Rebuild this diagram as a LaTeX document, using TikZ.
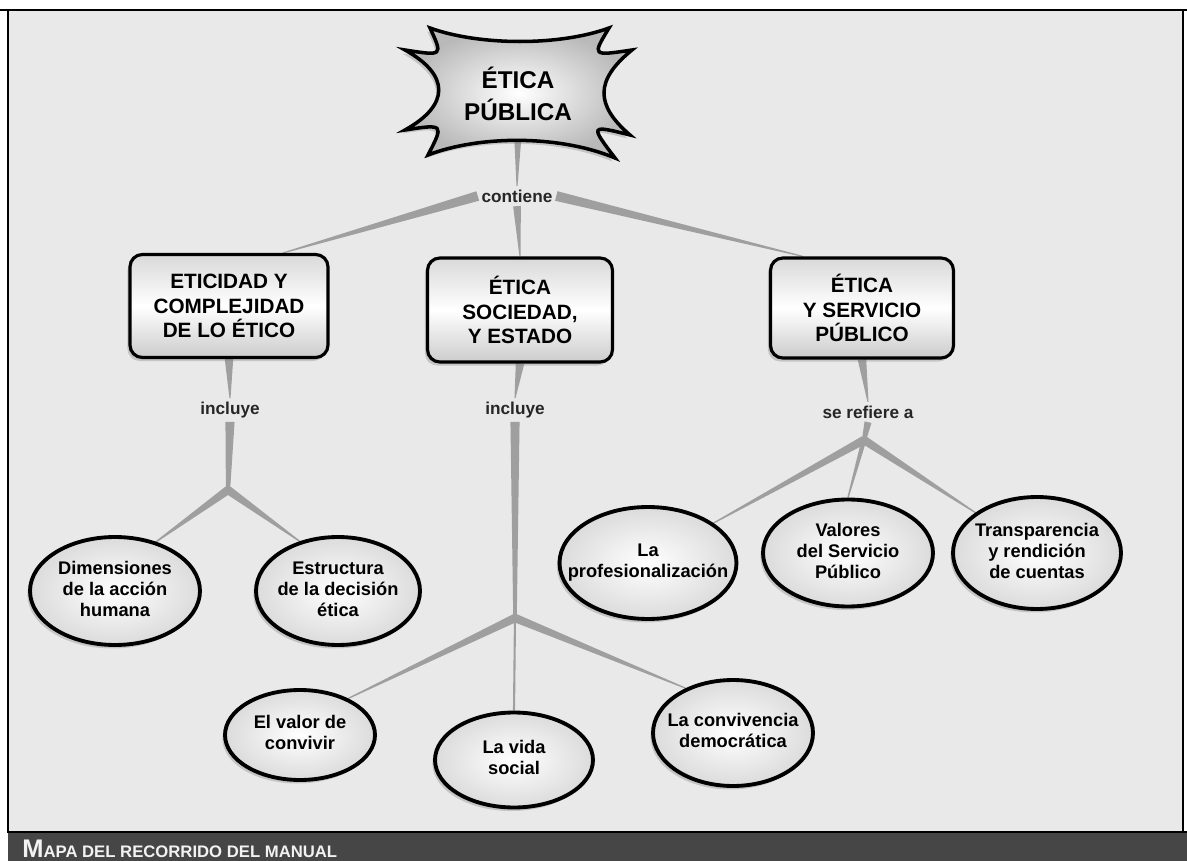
\documentclass[tikz,border=0pt]{standalone}
\usepackage{fontspec}
\setmainfont{Liberation Sans}
\usetikzlibrary{positioning,shadows,shapes.geometric,calc}

\definecolor{fondo}{RGB}{233,233,233}
\definecolor{franja}{RGB}{70,70,70}

\pgfdeclarelayer{bg}
\pgfsetlayers{bg,main}

% tapered link: from, to, half width at start, half width at end
\newcommand{\enlace}[4]{%
  \fill[rama] ($(#1)!#3!90:(#2)$) -- ($(#2)!#4!-90:(#1)$)
    -- ($(#2)!#4!90:(#1)$) -- ($(#1)!#3!-90:(#2)$) -- cycle;}
\newcommand{\ctexto}[1]{\makebox[0pt]{\begin{tabular}{@{}c@{}}#1\end{tabular}}}

\begin{document}
\begin{tikzpicture}[x=0.02cm, y=-0.02cm,
    tema/.style={rectangle, draw=black, line width=1.8pt, rounded corners=7pt,
        top color=gray!30, bottom color=gray!40, middle color=white,
        drop shadow={shadow xshift=-1.5pt, shadow yshift=-2pt, opacity=0.35},
        align=center, font=\fontsize{11.8}{14}\selectfont\bfseries},
    hoja/.style={ellipse, draw=black, line width=2.2pt, inner sep=0pt,
        inner color=white, outer color=gray!28,
        drop shadow={shadow xshift=-1.5pt, shadow yshift=-2pt, opacity=0.35},
        font=\fontsize{10.4}{12}\selectfont\bfseries},
    frase/.style={font=\fontsize{9.8}{11}\selectfont\bfseries, text=black!85, inner sep=2pt},
    rama/.style={fill=gray!75},
    estrella/.style={draw=black, line width=2pt, inner color=white, outer color=gray!55,
        drop shadow={shadow xshift=-1.5pt, shadow yshift=-2pt, opacity=0.35}}
]

% background and frame
\useasboundingbox (0,0) rectangle (1187,861);
\begin{pgfonlayer}{bg}
\fill[white] (0,0) rectangle (1187,861);
\fill[fondo] (8,10) rectangle (1183,832);
\end{pgfonlayer}
\draw[line width=1.6pt] (0,10) -- (1187,10);
\draw[line width=1.6pt] (8,10) -- (8,832) -- (1187,832);
\draw[line width=1.6pt] (1183,10) -- (1183,832);
\fill[franja] (8,833) rectangle (1187,861);
\node[anchor=base west, text=gray!10, inner sep=0pt] (pie) at (22,857)
    {\bfseries\fontsize{14.5}{14}\selectfont M\fontsize{9.5}{10}\selectfont APA DEL RECORRIDO DEL MANUAL};

% title
\path[estrella] (430,28) .. controls (480,46) and (560,46) .. (609,28)
    .. controls (592,56) .. (632,50)
    .. controls (595,80) and (595,105) .. (630,135)
    .. controls (590,125) .. (615,158)
    .. controls (560,135) and (480,135) .. (428,155)
    .. controls (444,124) .. (405,130)
    .. controls (450,105) and (450,75) .. (405,50)
    .. controls (443,56) .. (430,28) -- cycle;
\node[font=\fontsize{13.8}{18}\selectfont\bfseries, align=center] (titulo) at (518,94) {ÉTICA\\PÚBLICA};

\node[frase] (contiene) at (517,196) {contiene};

% topics
\node[tema, minimum width=3.96cm, minimum height=2.06cm] (etic) at (229,306) {ETICIDAD Y\\COMPLEJIDAD\\DE LO ÉTICO};
\node[tema, minimum width=3.7cm, minimum height=2.08cm] (soc) at (520,310) {ÉTICA\\SOCIEDAD,\\Y ESTADO};
\node[tema, minimum width=3.66cm, minimum height=2cm] (serv) at (862,308) {ÉTICA\\Y SERVICIO\\PÚBLICO};

\node[frase] (incl1) at (230,410) {incluye};
\node[frase] (incl2) at (515,410) {incluye};
\node[frase] (refiere) at (868,412) {se refiere a};

% leaves
\node[hoja, minimum width=3.4cm, minimum height=2.16cm] (dim) at (115,591) {\ctexto{Dimensiones\\de la acción\\humana}};
\node[hoja, minimum width=3.28cm, minimum height=2.16cm] (est) at (338,591) {\ctexto{Estructura\\de la decisión\\ética}};
\node[hoja, minimum width=3cm, minimum height=1.8cm] (valor) at (300,735) {\ctexto{El valor de\\convivir}};
\node[hoja, minimum width=3.16cm, minimum height=1.9cm] (vida) at (514,760) {\ctexto{La vida\\social}};
\node[hoja, minimum width=3.2cm, minimum height=2.12cm] (conv) at (733,733) {\ctexto{La convivencia\\democrática}};
\node[hoja, minimum width=3.54cm, minimum height=2.24cm] (prof) at (648,563) {\ctexto{La\\profesionalización}};
\node[hoja, minimum width=3.4cm, minimum height=2.14cm] (valores) at (848,553) {\ctexto{Valores\\del Servicio\\Público}};
\node[hoja, minimum width=3.36cm, minimum height=2.24cm] (transp) at (1037,553) {\ctexto{Transparencia\\y rendición\\de cuentas}};

% junctions and link ends
\coordinate (j1) at (228,490);
\coordinate (j2) at (515,618);
\coordinate (j3) at (864,440);
\coordinate (e1) at ($(etic.north)+(54,0)$);
\coordinate (e3) at ($(serv.north)+(-59,0)$);
\coordinate (a1) at ($(dim.center)+(38,-47)$);
\coordinate (a2) at ($(est.center)+(-36,-48)$);
\coordinate (b1) at ($(valor.center)+(45,-35)$);
\coordinate (b3) at ($(conv.center)+(-43,-43)$);
\coordinate (c1) at ($(prof.center)+(62,-38)$);
\coordinate (c3) at ($(transp.center)+(-58,-38)$);

\begin{pgfonlayer}{bg}
\enlace{titulo.south}{contiene.north}{2.4pt}{0.3pt}
\enlace{contiene.west}{e1}{2.8pt}{0.3pt}
\enlace{contiene.south}{soc.north}{2.2pt}{0.3pt}
\enlace{contiene.east}{e3}{2.8pt}{0.3pt}
\enlace{etic.south}{incl1.north}{2.4pt}{0.3pt}
\enlace{soc.south}{incl2.north}{2.4pt}{0.3pt}
\enlace{serv.south}{refiere.north}{2.4pt}{0.3pt}
\enlace{incl1.south}{j1}{2.6pt}{1.2pt}
\enlace{incl2.south}{j2}{2.6pt}{1pt}
\enlace{refiere.south}{j3}{2pt}{1.2pt}
\enlace{j1}{a1}{2.4pt}{0.3pt}
\enlace{j1}{a2}{2.4pt}{0.3pt}
\enlace{j2}{b1}{2.4pt}{0.3pt}
\enlace{j2}{vida.north}{0.6pt}{0.6pt}
\enlace{j2}{b3}{2.4pt}{0.3pt}
\enlace{j3}{c1}{2.4pt}{0.3pt}
\enlace{j3}{valores.north}{1.4pt}{0.4pt}
\enlace{j3}{c3}{2.4pt}{0.3pt}
\end{pgfonlayer}

\end{tikzpicture}
\end{document}
